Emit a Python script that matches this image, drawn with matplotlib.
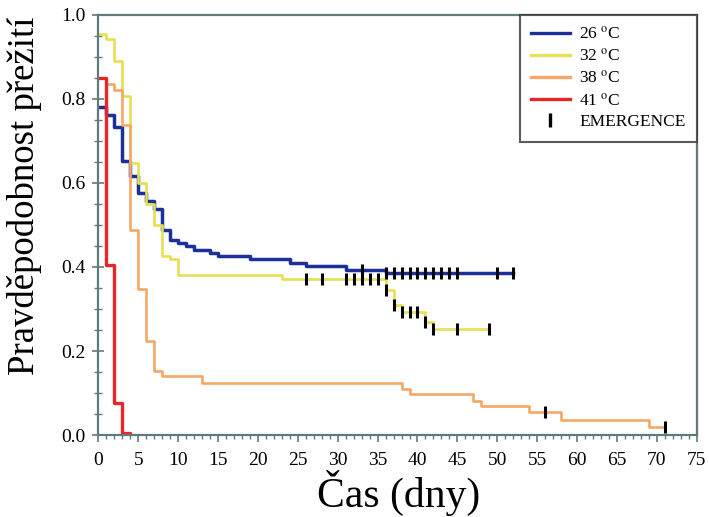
import matplotlib
matplotlib.use("Agg")
import matplotlib.pyplot as plt
from matplotlib.lines import Line2D
from matplotlib.ticker import MultipleLocator

plt.rcParams['font.family'] = ['Liberation Serif', 'DejaVu Serif']
plt.rcParams['mathtext.fontset'] = 'stix'

# Kaplan-Meier steps (day, survival) per temperature
t26 = [0, 1, 2, 3, 4, 5, 6, 7, 8, 9, 10, 11, 12, 14, 15, 19, 24, 26, 31, 36, 52]
s26 = [0.78, 0.763, 0.733, 0.652, 0.616, 0.577, 0.557, 0.537, 0.487, 0.465, 0.458,
       0.449, 0.441, 0.434, 0.425, 0.418, 0.41, 0.402, 0.394, 0.386, 0.386]
t32 = [0, 1, 2, 3, 4, 5, 6, 7, 8, 9, 10, 23, 36, 37, 38, 41, 42, 49]
s32 = [0.955, 0.944, 0.89, 0.807, 0.647, 0.599, 0.549, 0.499, 0.427, 0.42, 0.38,
       0.372, 0.346, 0.31, 0.294, 0.27, 0.253, 0.253]
t38 = [0, 1, 2, 3, 4, 5, 6, 7, 8, 13, 38, 39, 47, 48, 54, 58, 69, 71]
s38 = [0.849, 0.835, 0.822, 0.737, 0.487, 0.347, 0.223, 0.152, 0.14, 0.125, 0.109,
       0.097, 0.081, 0.068, 0.055, 0.036, 0.018, 0.018]
t41 = [0, 1, 2, 3, 4]
s41 = [0.85, 0.405, 0.076, 0.005, 0.0]

# censored points (emergence)
c26_t = [33, 36, 37, 38, 39, 40, 41, 42, 43, 44, 45, 50, 52]
c26_s = [0.394] + [0.386] * 12
c32_t = [26, 28, 31, 32, 33, 34, 35, 36, 37, 38, 39, 40, 41, 42, 45, 49]
c32_s = [0.372] * 7 + [0.346, 0.31, 0.294, 0.294, 0.294, 0.27, 0.253, 0.253, 0.253]
c38_t = [56, 71]
c38_s = [0.055, 0.018]

labels = ["26 $^{\\mathrm{o}}$C", "32 $^{\\mathrm{o}}$C", "38 $^{\\mathrm{o}}$C", "41 $^{\\mathrm{o}}$C"]
colors = ["#1c2f9a", "#e6e052", "#f5a865", "#e8262a"]
widths = [2.5, 1.9, 1.9, 2.4]

fig = plt.figure(figsize=(7.09, 5.17), dpi=100)
ax = fig.add_axes([0.1387, 0.1586, 0.844, 0.8124])

series = [(t26, s26), (t32, s32), (t38, s38), (t41, s41)]
for (t, s), c, lw in zip(series, colors, widths):
    ax.step(t, s, where="post", color=c, lw=lw, zorder=2)

for ct, cs in ((c26_t, c26_s), (c32_t, c32_s), (c38_t, c38_s)):
    ax.plot(ct, cs, ls="none", marker="|", ms=9, mew=2.2, color="black", zorder=3)

ax.set_xlim(0, 75)
ax.set_ylim(0, 1.0)
ax.xaxis.set_major_locator(MultipleLocator(5))
ax.xaxis.set_minor_locator(MultipleLocator(1))
ax.yaxis.set_major_locator(MultipleLocator(0.2))
ax.yaxis.set_minor_locator(MultipleLocator(0.05))
ax.yaxis.set_major_formatter(lambda v, p: f"{v:.1f}")

spc = "#5f7b7b"
for sp in ax.spines.values():
    sp.set_color(spc)
    sp.set_linewidth(1.6)
ax.tick_params(axis="x", which="major", direction="out", length=5, width=1.2,
               color=spc, labelsize=14, pad=7)
ax.tick_params(axis="x", which="minor", direction="out", length=3, width=1.0, color=spc)
ax.tick_params(axis="y", which="major", direction="inout", length=8, width=1.2,
               color=spc, labelsize=14, pad=5)
ax.tick_params(axis="y", which="minor", direction="inout", length=6, width=1.0, color=spc)

ax.set_ylabel("Pravděpodobnost přežití", fontsize=26.5)
ax.yaxis.set_label_coords(-0.094, 0.57)
fig.text(399 / 709, 1 / 517, "Čas (dny)", fontsize=30, ha="center", va="bottom")

handles = [Line2D([], [], color=c, lw=2.4) for c in colors]
handles.append(Line2D([], [], ls="none", marker="|", ms=10, mew=2.4, color="black"))
leg = ax.legend(handles, labels + ["EMERGENCE"], loc="upper right",
                bbox_to_anchor=(1.0, 1.0), borderaxespad=0, fontsize=12.5,
                frameon=True, fancybox=False, handlelength=2.2, handletextpad=0.55,
                labelspacing=0.3, borderpad=0.65)
leg.get_frame().set_edgecolor("#333333")
leg.get_frame().set_linewidth(1.5)

fig.savefig("out.png", dpi=100)
